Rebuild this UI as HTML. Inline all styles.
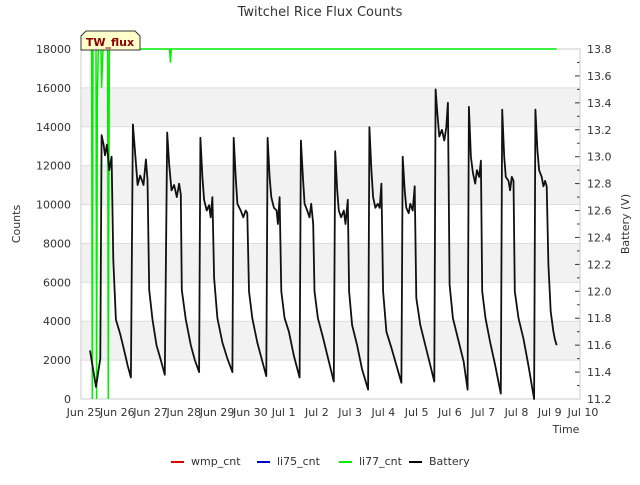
<!DOCTYPE html>
<html><head><meta charset="utf-8"><style>
body{margin:0;background:#fff;font-family:"Liberation Sans","DejaVu Sans",sans-serif}
svg text{font-family:"DejaVu Sans","Liberation Sans",sans-serif}
</style></head><body>
<svg id="c" width="640" height="480" xmlns="http://www.w3.org/2000/svg"></svg>
<script>
const xTickLabels=["Jun 25","Jun 26","Jun 27","Jun 28","Jun 29","Jun 30","Jul 1","Jul 2","Jul 3","Jul 4","Jul 5","Jul 6","Jul 7","Jul 8","Jul 9","Jul 10"];
const leftTicks=[0,2000,4000,6000,8000,10000,12000,14000,16000,18000];
const rightTicks=[11.2,11.4,11.6,11.8,12.0,12.2,12.4,12.6,12.8,13.0,13.2,13.4,13.6,13.8];
const li77Days=[0.30,0.32,0.34,0.36,0.45,0.47,0.49,0.52,0.60,0.62,0.66,0.80,0.82,0.85,2.66,2.69,2.71,14.3];
const li77Vals=[18000,18000,0,18000,18000,0,15500,18000,18000,16000,18000,18000,0,18000,18000,17300,18000,18000];
const batteryDays=[0.27,0.45,0.58,0.62,0.68,0.72,0.78,0.85,0.92,0.97,1.05,1.18,1.3,1.4,1.5,
1.56,1.62,1.7,1.78,1.88,1.95,2.0,2.05,2.15,2.27,2.4,2.52,
2.59,2.65,2.72,2.8,2.88,2.95,3.0,3.03,3.15,3.3,3.42,3.55,
3.59,3.65,3.7,3.78,3.85,3.9,3.95,4.0,4.1,4.25,4.4,4.55,
4.59,4.65,4.7,4.8,4.88,4.95,5.0,5.05,5.15,5.3,5.45,5.57,
5.61,5.67,5.72,5.8,5.88,5.92,5.97,6.02,6.12,6.25,6.4,6.57,
6.61,6.67,6.72,6.8,6.87,6.92,6.98,7.02,7.12,7.28,7.45,7.6,
7.64,7.7,7.75,7.82,7.9,7.95,8.02,8.06,8.15,8.3,8.45,8.63,
8.67,8.73,8.78,8.85,8.92,8.98,9.03,9.08,9.18,9.33,9.48,9.63,
9.67,9.73,9.78,9.85,9.9,9.97,10.03,10.08,10.2,10.35,10.5,10.62,
10.66,10.72,10.77,10.85,10.92,10.98,11.03,11.08,11.18,11.33,11.5,11.62,
11.66,11.72,11.78,11.85,11.9,11.97,12.02,12.06,12.16,12.3,12.45,12.62,
12.66,12.72,12.77,12.85,12.9,12.95,13.0,13.04,13.15,13.3,13.45,13.62,
13.66,13.72,13.77,13.85,13.9,13.95,14.0,14.05,14.12,14.2,14.25,14.3];
const batteryVals=[11.56,11.29,11.5,13.16,13.09,13.01,13.09,12.9,13.0,12.23,11.79,11.68,11.56,11.45,11.36,
13.24,13.05,12.79,12.86,12.79,12.98,12.83,12.01,11.79,11.6,11.49,11.38,
13.18,12.94,12.75,12.79,12.7,12.8,12.72,12.01,11.79,11.6,11.49,11.40,
13.14,12.85,12.68,12.6,12.64,12.55,12.7,12.1,11.8,11.62,11.5,11.40,
13.14,12.85,12.65,12.6,12.55,12.6,12.58,12.0,11.8,11.62,11.48,11.37,
13.14,12.85,12.7,12.62,12.6,12.5,12.7,12.0,11.8,11.7,11.52,11.36,
13.12,12.85,12.65,12.6,12.55,12.65,12.5,12.0,11.8,11.65,11.48,11.33,
13.04,12.75,12.6,12.55,12.6,12.5,12.68,12.0,11.75,11.6,11.42,11.27,
13.22,12.9,12.7,12.62,12.65,12.62,12.8,12.0,11.7,11.58,11.45,11.32,
13.0,12.75,12.62,12.58,12.65,12.6,12.78,11.95,11.75,11.6,11.45,11.33,
13.5,13.3,13.15,13.2,13.12,13.22,13.4,12.05,11.8,11.65,11.48,11.27,
13.37,13.0,12.88,12.8,12.9,12.85,12.97,12.0,11.8,11.62,11.45,11.24,
13.35,13.0,12.85,12.82,12.75,12.85,12.82,12.0,11.8,11.65,11.45,11.2,
13.35,13.05,12.9,12.85,12.78,12.82,12.78,12.2,11.85,11.7,11.64,11.6];

const svg=document.getElementById('c');const NS='http://www.w3.org/2000/svg';
const L=81,R=580,T=49,B=399;
const xs=d=>L+d*(R-L)/15;
const yl=v=>B-v*(B-T)/18000;
const yr=v=>B-(v-11.2)*(B-T)/2.6;
function mk(tag,attrs,parent){const e=document.createElementNS(NS,tag);for(const k in attrs)e.setAttribute(k,attrs[k]);(parent||svg).appendChild(e);return e;}
for(let i=0;i<leftTicks.length-1;i++){
 if(i%2===1){const b=mk('rect',{x:L,y:yl(leftTicks[i+1]),width:R-L,height:yl(leftTicks[i])-yl(leftTicks[i+1]),fill:'#f2f2f2'});
 
 }
}
leftTicks.forEach(v=>{
 const g=mk('line',{x1:L,x2:R,y1:yl(v),y2:yl(v),stroke:'#dddddd','stroke-width':1});
 
 
 const t=mk('text',{x:L-10,y:yl(v)+4,'text-anchor':'end','font-size':11,fill:'#333'});t.textContent=v;
 
 
});
rightTicks.forEach((v,i)=>{
 const tk=mk('line',{x1:R-5,x2:R,y1:yr(v),y2:yr(v),stroke:'#333'});
 
 
 if(i<rightTicks.length-1){const m=mk('line',{x1:R-3,x2:R,y1:yr(v+0.1),y2:yr(v+0.1),stroke:'#333'});
 
 }
 const t=mk('text',{x:R+7,y:yr(v)+4,'font-size':11,fill:'#333'});t.textContent=v.toFixed(1);
 
 
});
xTickLabels.forEach((s,i)=>{
 const t=mk('text',{x:xs(i)+3,y:B+17,'text-anchor':'middle','font-size':11,fill:'#333'});t.textContent=s;
 
 
});
const fr=mk('rect',{x:L,y:T,width:R-L,height:B-T,fill:'none',stroke:'#cccccc'});


let p='';li77Days.forEach((d,i)=>{p+=(i?'L':'M')+xs(d).toFixed(1)+','+yl(li77Vals[i]).toFixed(1);});
const g1=mk('path',{d:p,fill:'none',stroke:'#00ee00','stroke-width':1.5});


p='';batteryDays.forEach((d,i)=>{p+=(i?'L':'M')+xs(d).toFixed(1)+','+yr(batteryVals[i]).toFixed(1);});
const g2=mk('path',{d:p,fill:'none',stroke:'#111','stroke-width':1.8,'stroke-linejoin':'round'});


</script>
<svg width="640" height="480" style="position:absolute;left:0;top:0" xmlns="http://www.w3.org/2000/svg">
<text x="320" y="16" text-anchor="middle" font-size="13" fill="#333">Twitchel Rice Flux Counts</text>
<text x="20" y="224" text-anchor="middle" font-size="11" fill="#333" transform="rotate(-90 20 224)">Counts</text>
<text x="629" y="224" text-anchor="middle" font-size="11" fill="#333" transform="rotate(-90 629 224)">Battery (V)</text>
<text x="566" y="433" text-anchor="middle" font-size="11" fill="#333">Time</text>
<g>
<path d="M81,50 L81,36 L86,31 L135,31 L140,36 L140,50 Z" fill="#ffffcc" stroke="#333"/>
<text x="110" y="46" text-anchor="middle" font-size="11" font-weight="bold" fill="#8b0000">TW_flux</text>
</g>
<g>
<line x1="171" x2="184" y1="462" y2="462" stroke="#dd0000" stroke-width="2"/>
<text x="191" y="465" font-size="11" fill="#333">wmp_cnt</text>
<line x1="257" x2="270" y1="462" y2="462" stroke="#0000cc" stroke-width="2"/>
<text x="277" y="465" font-size="11" fill="#333">li75_cnt</text>
<line x1="339" x2="352" y1="462" y2="462" stroke="#00ee00" stroke-width="2"/>
<text x="359" y="465" font-size="11" fill="#333">li77_cnt</text>
<line x1="409" x2="422" y1="462" y2="462" stroke="#000" stroke-width="2"/>
<text x="429" y="465" font-size="11" fill="#333">Battery</text>
</g>
</svg>
</body></html>
